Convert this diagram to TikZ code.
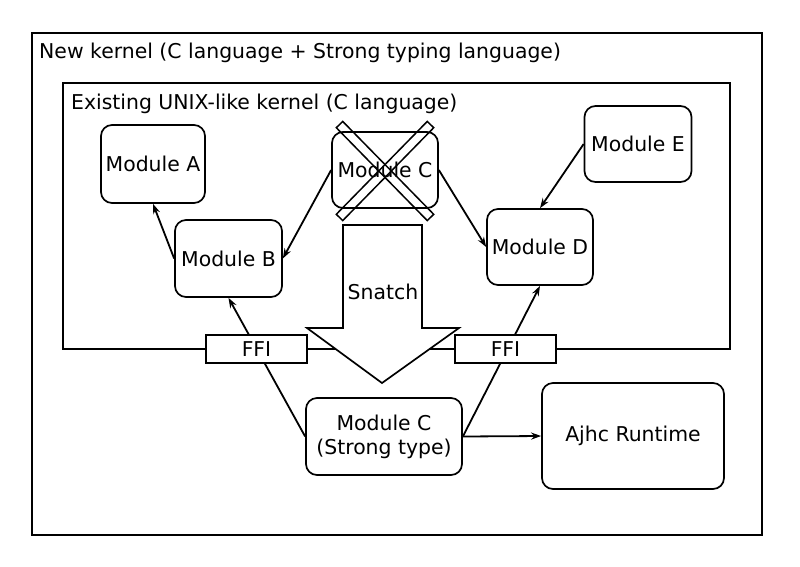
\documentclass[tikz,border=0pt]{standalone}
\usepackage{fontspec}
\setmainfont{DejaVu Sans}
\usetikzlibrary{arrows.meta}
\begin{document}
\begin{tikzpicture}[x=1pt,y=-1pt,
  every node/.style={font=\fontsize{20.4}{24}\selectfont},
  frame/.style={draw,line width=1.8pt},
  modbox/.style={draw,line width=1.7pt,rounded corners=11pt,fill=white,inner sep=0pt},
  ffibox/.style={draw,line width=1.7pt,fill=white,inner sep=0pt,minimum width=101pt,minimum height=28pt},
  conn/.style={line width=1.8pt,-{Stealth[length=10pt,width=7pt]}},
  bar/.style={draw,line width=1.5pt,inner sep=0pt,minimum width=130pt,minimum height=9pt}]
\useasboundingbox (0,0) rectangle (800,566);
% outer and inner frames
\draw[frame] (32,33) rectangle (762,535);
\node[anchor=west,inner sep=0pt] (tnew) at (39,53) {New kernel (C language + Strong typing language)};
\draw[frame] (63,83) rectangle (730,349);
\node[anchor=west,inner sep=0pt] (tex) at (71,104) {Existing UNIX-like kernel (C language)};
% modules
\node[modbox,minimum width=104pt,minimum height=78pt] (ma) at (153,164) {Module A};
\node[modbox,minimum width=107pt,minimum height=77pt] (mb) at (228.5,258.5) {Module B};
\node[modbox,minimum width=106pt,minimum height=76pt] (mc) at (385,170) {Module C};
\node[modbox,minimum width=106pt,minimum height=76pt] (md) at (540,247) {Module D};
\node[modbox,minimum width=107pt,minimum height=76pt] (me) at (638,144) {Module E};
% cross over module C
\node[bar,rotate=-45.6] (xa) at (385,171) {};
\node[bar,rotate=45.6] (xb) at (385,171) {};
% snatch arrow
\draw[line width=1.7pt,fill=white,line join=miter] (343,225) -- (422,225) -- (422,328) -- (459,328) -- (382,383) -- (307,328) -- (343,328) -- cycle;
\node (snatch) at (383,292) {Snatch};
% lower modules
\node[modbox,minimum width=156pt,minimum height=77pt,align=center] (mcs) at (384,436.5) {Module C\\(Strong type)};
\node[modbox,minimum width=182pt,minimum height=106pt] (aj) at (633,436) {Ajhc Runtime};
% connectors
\draw[conn] (mc.west) -- (mb.east);
\draw[conn] (mc.east) -- (md.west);
\draw[conn] (mb.west) -- (ma.south);
\draw[conn] (me.west) -- (md.north);
\draw[conn] (mcs.west) -- (mb.south);
\draw[conn] (mcs.east) -- (md.south);
\draw[conn] (mcs.east) -- (aj.west);
% FFI boxes
\node[ffibox] (ffil) at (256.5,349) {FFI};
\node[ffibox] (ffir) at (505.5,349) {FFI};
\end{tikzpicture}
\end{document}
